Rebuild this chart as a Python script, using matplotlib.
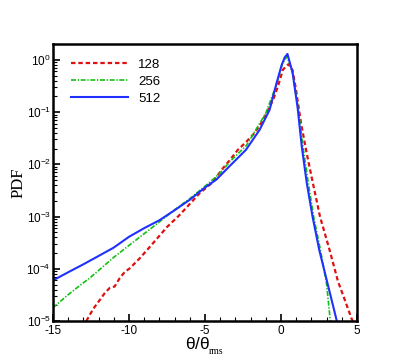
import numpy as np
import matplotlib
matplotlib.use("Agg")
import matplotlib.pyplot as plt
from matplotlib.ticker import LogLocator, FuncFormatter, MultipleLocator, NullFormatter

plt.rcParams['font.family'] = ['Liberation Sans', 'DejaVu Sans']
plt.rcParams['mathtext.fontset'] = 'custom'
plt.rcParams['mathtext.rm'] = 'Liberation Sans'
plt.rcParams['mathtext.it'] = 'Liberation Sans:italic'

# --- données (theta/theta_rms, PDF) ---
x_128 = [-12.8, -12.59, -12.26, -11.93, -11.6, -11.27, -10.94, -10.61, -10.28, -9.95,
         -9.3, -8.64, -7.5, -6.67, -5.35, -4.5, -3.91, -3.37, -2.83, -2.28, -1.73,
         -1.29, -0.85, -0.52, -0.2, 0.13, 0.5, 0.77, 0.99, 1.32, 1.7, 2.1, 2.57,
         3.2, 3.75, 4.19, 4.63, 4.72]
pdf_128 = [1.0e-5, 1.3e-5, 1.86e-5, 2.5e-5, 3.4e-5, 4.3e-5, 4.6e-5, 6.6e-5, 8.7e-5, 1.02e-4,
           1.58e-4, 2.6e-4, 6.3e-4, 1.07e-3, 2.8e-3, 4.5e-3, 7.8e-3, 1.2e-2, 1.9e-2, 2.7e-2, 4.0e-2,
           6.2e-2, 0.11, 0.17, 0.31, 0.65, 0.83, 0.63, 0.27, 6.2e-2, 1.6e-2, 4.4e-3, 1.0e-3,
           2.3e-4, 5.8e-5, 2.6e-5, 1.15e-5, 1.0e-5]

x_256 = [-15.0, -14.0, -13.0, -12.6, -12.0, -11.0, -10.0, -9.0, -8.0, -7.0, -6.0, -5.0,
         -4.0, -3.37, -2.27, -1.0, -0.3, 0.1, 0.4, 0.75, 1.1, 1.48, 1.8, 2.15, 2.6,
         3.0, 3.25]
pdf_256 = [1.8e-5, 3.2e-5, 5.4e-5, 6.6e-5, 9.3e-5, 1.66e-4, 2.8e-4, 4.7e-4, 7.9e-4, 1.35e-3,
           2.2e-3, 3.8e-3, 6.8e-3, 1.12e-2, 2.3e-2, 9.5e-2, 0.33, 0.85, 1.16, 0.6, 0.14,
           1.9e-2, 4.4e-3, 1.0e-3, 2.3e-4, 5.2e-5, 1.0e-5]

x_512 = [-15.0, -14.0, -13.0, -12.4, -11.0, -10.0, -9.0, -8.0, -7.0, -6.0, -5.0, -4.25,
         -3.4, -2.3, -1.4, -0.75, -0.3, 0.05, 0.25, 0.43, 0.77, 1.1, 1.37, 1.7, 2.08,
         2.52, 3.07, 3.66]
pdf_512 = [6.0e-5, 8.6e-5, 1.22e-4, 1.52e-4, 2.55e-4, 4.1e-4, 6.0e-4, 8.5e-4, 1.32e-3, 2.1e-3,
           3.6e-3, 5.1e-3, 9.1e-3, 1.9e-2, 4.6e-2, 0.11, 0.35, 0.8, 1.12, 1.3, 0.56, 0.12,
           2.2e-2, 4.4e-3, 1.0e-3, 2.3e-4, 5.2e-5, 1.05e-5]

fig = plt.figure(figsize=(4.07, 3.62), dpi=100)
ax = fig.add_axes([0.130, 0.113, 0.747, 0.765])

ax.plot(x_128, pdf_128, color='#e01010', lw=1.6, linestyle=(0, (2.0, 1.3)), label='128')
ax.plot(x_256, pdf_256, color='#10c010', lw=1.2, linestyle=(0, (3.0, 1.0, 0.8, 1.0)), label='256')
ax.plot(x_512, pdf_512, color='#2030ff', lw=1.5, label='512')

ax.set_yscale('log')
ax.set_xlim(-15, 5)
ax.set_ylim(1e-5, 2.0)

ax.xaxis.set_major_locator(MultipleLocator(5))
ax.xaxis.set_minor_locator(MultipleLocator(1))
ax.yaxis.set_major_locator(LogLocator(base=10, numticks=10))
ax.yaxis.set_minor_locator(LogLocator(base=10, subs=np.arange(2, 10), numticks=20))
ax.yaxis.set_minor_formatter(NullFormatter())
ax.yaxis.set_major_formatter(FuncFormatter(lambda v, p: r'$\mathregular{10^{%d}}$' % int(round(np.log10(v)))))
ax.xaxis.set_major_formatter(FuncFormatter(lambda v, p: '%d' % v))

ax.tick_params(which='both', direction='in', top=False, right=False, labelsize=8.5)
ax.tick_params(which='major', length=5, width=1.2)
ax.tick_params(which='minor', length=3, width=0.8)
ax.tick_params(axis='x', pad=3)
ax.tick_params(axis='y', pad=1.5)
for s in ax.spines.values():
    s.set_linewidth(1.8)

ax.set_ylabel('PDF', family=['Liberation Serif'], fontsize=12, labelpad=0)
ax.set_xlabel(r'$\mathregular{\theta/\theta}$', fontsize=12.5)
ax.xaxis.set_label_coords(0.477, -0.054)
fig.text(209 / 407, 1 - 352 / 362, 'rms', family=['Liberation Serif'], fontsize=7, va='center')

ax.legend(loc='upper left', frameon=False, fontsize=9.5, handlelength=4.3,
          labelspacing=0.35, handletextpad=0.8, bbox_to_anchor=(0.02, 0.99))

plt.savefig('out.png', dpi=100)
